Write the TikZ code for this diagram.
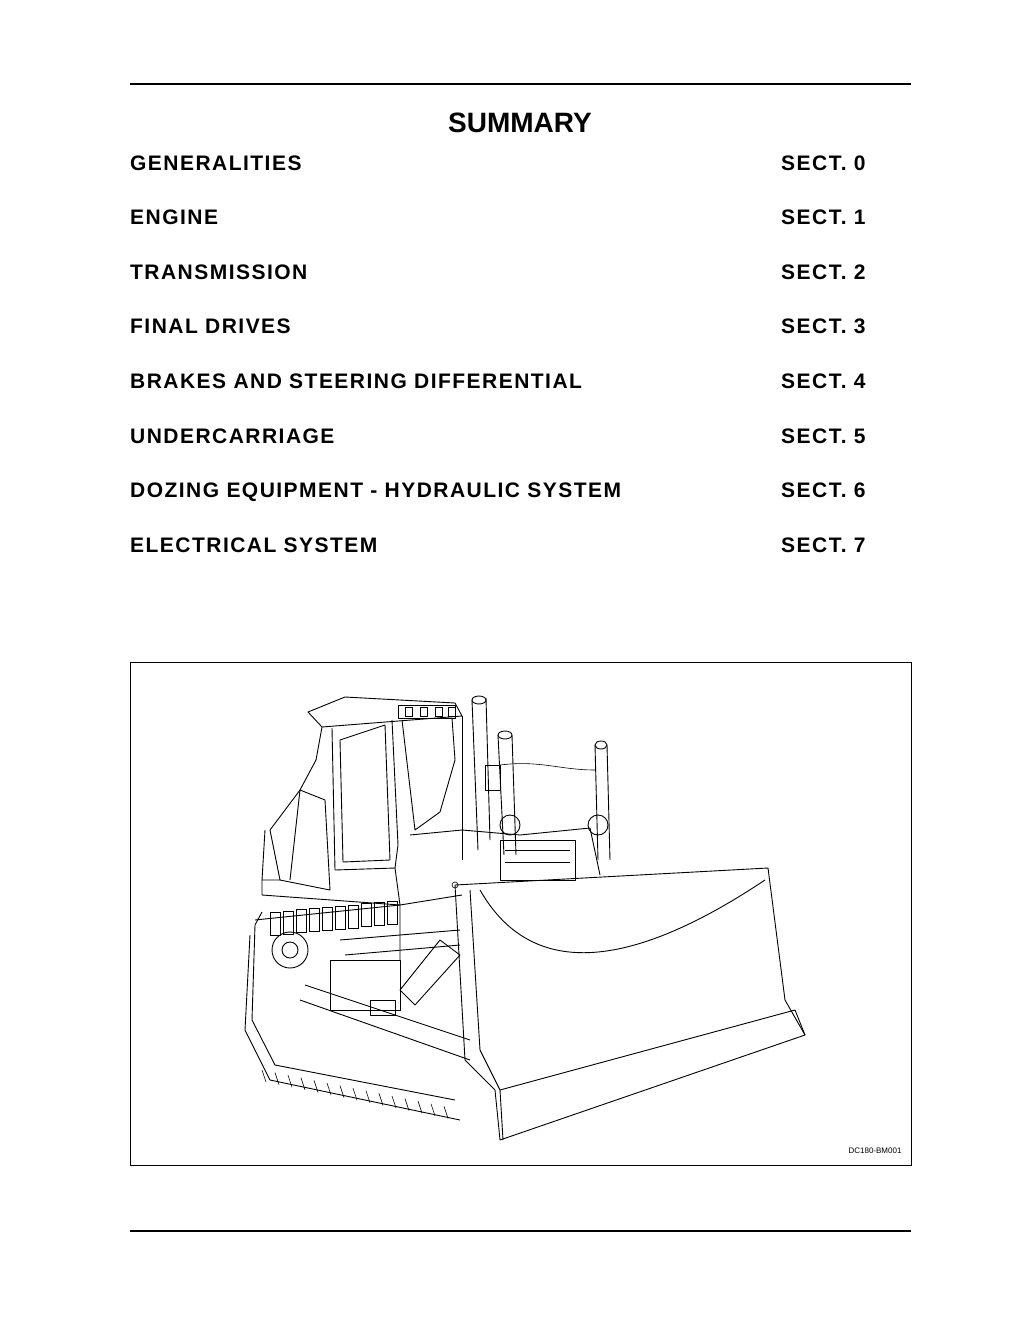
\documentclass[tikz,border=0pt]{standalone}
\usepackage{fontspec}
\setmainfont{Liberation Sans}
\newfontfamily\spaced[LetterSpace=7]{Liberation Sans}
\begin{document}
\begin{tikzpicture}[x=1pt,y=-1pt,
  entry/.style={anchor=base west,inner sep=0pt,font=\spaced\fontsize{21}{24}\selectfont\bfseries},
  ln/.style={line width=0.9pt,line join=round},
  thin/.style={line width=0.6pt}]
\useasboundingbox (0,0) rectangle (1024,1325);
\draw[line width=1.2pt] (130,84) -- (911,84);
\draw[line width=1.2pt] (130,1231) -- (911,1231);
\node[anchor=base,font=\fontsize{28}{30}\selectfont\bfseries] (title) at (520,132) {SUMMARY};
\foreach \t/\s [count=\i from 0] in {GENERALITIES/0,ENGINE/1,TRANSMISSION/2,FINAL\ DRIVES/3,BRAKES\ AND\ STEERING\ DIFFERENTIAL/4,UNDERCARRIAGE/5,DOZING\ EQUIPMENT\ -\ HYDRAULIC\ SYSTEM/6,ELECTRICAL\ SYSTEM/7}{
  \node[entry] (e\i) at (130,{170+54.6*\i}) {\t};
  \node[entry] (s\i) at (781,{170+54.6*\i}) {SECT.\ \s};
}
\draw[line width=0.9pt] (130,662) rectangle (911,1165);
\node[anchor=base east,font=\fontsize{8}{9}\selectfont] (lab) at (905,1153) {DC180-BM001};
% cab
\draw[ln] (308,712) -- (345,697) -- (455,703) -- (462,716) -- (322,727) -- cycle;
\draw[ln] (322,727) -- (316,760) -- (300,790) -- (290,880);
\draw[ln] (462,716) -- (462,860);
\draw[ln] (332,728) -- (335,870) -- (395,868) -- (398,845) -- (392,720);
\draw[ln] (340,740) -- (343,862) -- (390,860) -- (385,725) -- cycle;
\draw[ln] (402,720) -- (415,830) -- (440,812) -- (455,760) -- (452,718);
\draw[ln] (410,835) -- (462,830);
\draw[ln] (398,705) rectangle (455,718);
\foreach \x in {405,420,435,448} \draw[thin] (\x,707) rectangle (\x+7,716);
% rear box
\draw[ln] (270,830) -- (300,790) -- (325,800) -- (330,890) -- (280,880) -- cycle;
\draw[ln] (265,830) -- (262,880) -- (280,880);
\draw[ln] (262,880) -- (262,895) -- (400,905) -- (462,895);
% engine hood
\draw[ln] (462,830) -- (520,835) -- (590,828) -- (600,875) ;
\draw[ln] (395,868) -- (400,905) -- (400,960);
\draw[ln] (500,840) rectangle (575,880);
\draw[thin] (505,850) -- (570,850) (505,862) -- (570,862);
% exhaust
\draw[ln] (472,700) -- (478,850) (486,698) -- (490,840);
\draw[ln] (479,700) ellipse (7 and 4);
\draw[ln] (485,765) rectangle (500,790);
% lift cylinders
\draw[ln] (498,735) -- (504,855) (512,735) -- (516,855);
\draw[ln] (505,735) ellipse (7 and 4);
\draw[ln] (595,745) -- (598,860) (607,745) -- (610,860);
\draw[ln] (601,745) ellipse (6 and 4);
\draw[ln] (510,825) circle (10) (598,825) circle (10);
\draw[thin] (500,765) .. controls (540,760) and (560,770) .. (595,770);
% track
\draw[ln] (255,920) -- (400,905) (250,935) -- (245,1030) -- (270,1080) -- (460,1120);
\draw[ln] (262,912) -- (255,925) -- (252,1020) -- (275,1065) -- (455,1100);
\foreach \i in {0,...,14} \draw[thin] ({262+13*\i},{1070+2.6*\i}) -- ({266+13*\i},{1082+2.6*\i});
\foreach \i in {0,...,9} \draw[thin] ({270+13*\i},{912-1.2*\i}) rectangle ({280+13*\i},{935-1.2*\i});
\draw[ln] (290,950) circle (18) (290,950) circle (8);
% push arm and cylinder
\draw[ln] (300,1000) -- (470,1060) (305,985) -- (470,1040);
\draw[ln] (440,940) -- (400,990) -- (415,1005) -- (460,955) -- cycle;
\draw[ln] (330,960) rectangle (400,1010);
\draw[ln] (370,1000) rectangle (395,1015);
\draw[ln] (340,940) -- (460,930) (345,955) -- (460,945);
% blade
\draw[ln] (455,885) -- (768,868) -- (785,1000) -- (805,1035) -- (500,1140) -- (495,1090) -- (465,1060) -- cycle;
\draw[ln] (470,890) -- (480,1050) -- (500,1090) -- (795,1010);
\draw[ln] (480,890) .. controls (520,960) and (600,990) .. (765,880);
\draw[ln] (500,1090) -- (503,1140);
\draw[ln] (795,1010) -- (805,1035);
\draw[thin] (455,885) circle (3);
\end{tikzpicture}
\end{document}
